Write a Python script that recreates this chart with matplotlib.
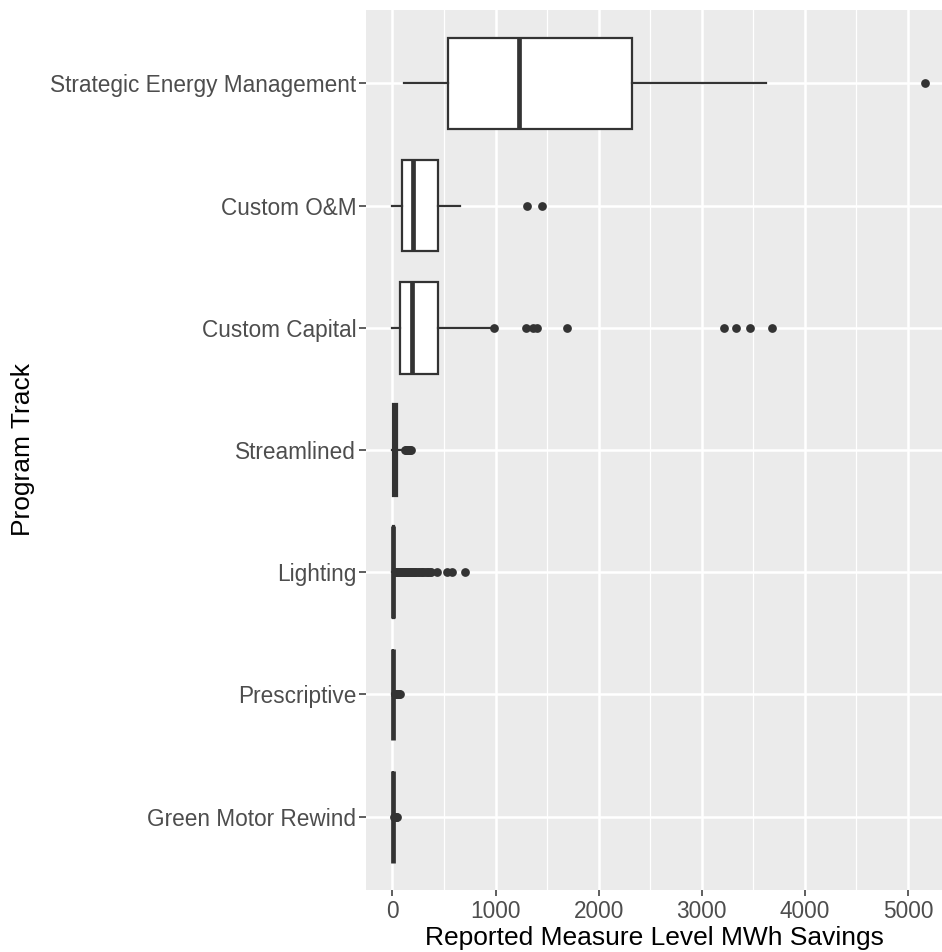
import matplotlib
matplotlib.use("Agg")
import matplotlib.pyplot as plt
from matplotlib.ticker import MultipleLocator

plt.rcParams["font.family"] = ["Liberation Sans", "DejaVu Sans"]

# Program tracks, listed bottom to top
tracks = ["Green Motor Rewind", "Prescriptive", "Lighting", "Streamlined",
          "Custom Capital", "Custom O&M", "Strategic Energy Management"]

# Five-number summaries (MWh) per track, same order as tracks
whisker_low = [0, 0, 0, 0, 0, 0, 116]
quartile_1 = [0.3, 0.5, 1, 3, 76, 89, 543]
medians = [1.5, 2, 4, 15, 189, 199, 1224]
quartile_3 = [6, 8, 12, 45, 444, 441, 2323]
whisker_high = [14, 18, 28, 110, 970, 655, 3623]

# Outlying measures per track
outliers = [
    [18, 24, 30, 36, 42],
    [22, 28, 35, 42, 50, 58, 66, 75],
    [30, 35, 40, 45, 52, 58, 63, 70, 76, 82, 90, 97, 105, 112, 120, 130,
     138, 147, 155, 165, 175, 186, 196, 208, 220, 232, 245, 258, 272, 285,
     300, 315, 330, 345, 360, 375, 432, 528, 575, 705],
    [120, 130, 140, 150, 158, 166, 175],
    [985, 1296, 1366, 1398, 1693, 3218, 3332, 3465, 3678],
    [1302, 1447],
    [5165],
]

x_ticks = [0, 1000, 2000, 3000, 4000, 5000]

dark = "#333333"
stats = []
for i, name in enumerate(tracks):
    stats.append(dict(label=name, whislo=whisker_low[i], q1=quartile_1[i],
                      med=medians[i], q3=quartile_3[i],
                      whishi=whisker_high[i], fliers=outliers[i]))

fig = plt.figure(figsize=(9.42, 9.52), dpi=100)
ax = fig.add_axes([366 / 942, 62 / 952, 576 / 942, 880 / 952])
ax.set_facecolor("#EBEBEB")

positions = list(range(1, len(tracks) + 1))
ax.bxp(stats, positions=positions, orientation="horizontal", widths=0.75,
       patch_artist=True, showcaps=False,
       boxprops=dict(facecolor="white", edgecolor=dark, linewidth=1.6),
       whiskerprops=dict(color=dark, linewidth=1.6),
       medianprops=dict(color=dark, linewidth=3.4, solid_capstyle="butt"),
       flierprops=dict(marker="o", markersize=6.3, markerfacecolor=dark,
                       markeredgecolor=dark, markeredgewidth=0),
       zorder=3)

ax.set_xlim(-257, 5330)
ax.set_ylim(0.4, len(tracks) + 0.6)
ax.set_xticks(x_ticks)
ax.set_xticklabels([str(v) for v in x_ticks])
ax.xaxis.set_minor_locator(MultipleLocator(500))
ax.set_yticks(positions)
ax.set_yticklabels(tracks)

ax.grid(which="major", color="white", linewidth=1.8, zorder=0)
ax.grid(which="minor", axis="x", color="white", linewidth=0.9, zorder=0)
ax.set_axisbelow(True)

for s in ax.spines.values():
    s.set_visible(False)

ax.tick_params(axis="both", which="major", color=dark, width=1.1,
               labelcolor="#4D4D4D", labelsize=16.3)
ax.tick_params(axis="y", length=5, pad=2)
ax.tick_params(axis="x", length=4, pad=3)
ax.tick_params(which="minor", length=0)

ax.set_xlabel("Reported Measure Level MWh Savings", fontsize=19,
              color="black", labelpad=2)
ax.set_ylabel("Program Track", fontsize=19, color="black", labelpad=11)

fig.savefig("out.png", dpi=100)
